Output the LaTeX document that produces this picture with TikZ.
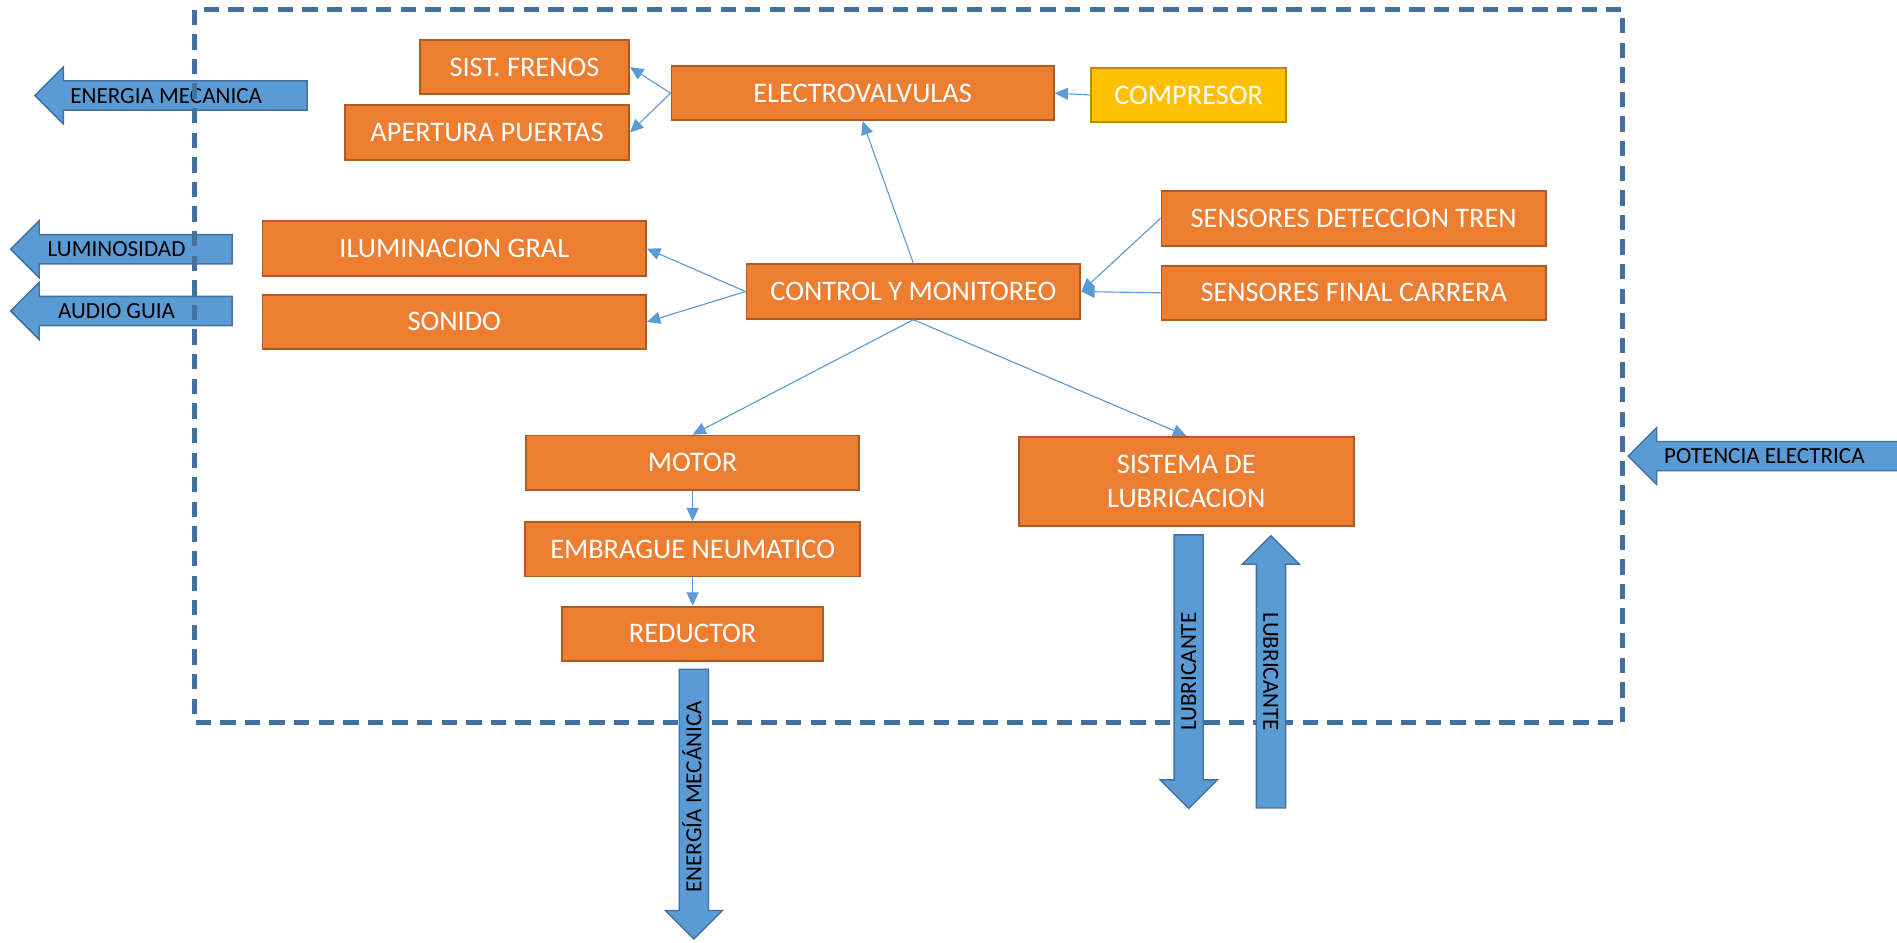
\documentclass[tikz,border=0pt]{standalone}
\usepackage{fontspec}
\setmainfont{Carlito}
\usepackage{tikz}
\usetikzlibrary{arrows.meta,positioning,shapes.arrows}

\definecolor{boxfill}{HTML}{ED7D31}
\definecolor{boxline}{HTML}{AE5A21}
\definecolor{compfill}{HTML}{FFC000}
\definecolor{compline}{HTML}{BC8C00}
\definecolor{flowfill}{HTML}{5B9BD5}
\definecolor{flowline}{HTML}{41719C}
\definecolor{linkblue}{HTML}{5B9BD5}
\definecolor{framebl}{HTML}{41719C}

\newcommand{\boxfont}{\fontsize{20}{23.5}\selectfont}
\newcommand{\flowfont}{\fontsize{16.3}{18}\selectfont}

\begin{document}
\begin{tikzpicture}[x=0.03cm,y=-0.03cm,
  block/.style={rectangle,draw=boxline,fill=boxfill,line width=1.3pt,text=white,
                font=\boxfont,inner sep=0pt,align=center,minimum height=1.35cm},
  source/.style={block,draw=compline,fill=compfill},
  link/.style={draw=linkblue,line width=0.8pt,-{Triangle[length=0.33cm,width=0.3cm]}},
  flow/.style={single arrow,draw=flowline,fill=flowfill,line width=1pt,font=\flowfont,
               single arrow head extend=0.345cm,inner xsep=0pt,inner ysep=0.16cm,
               text height=0.37cm,text depth=0pt,shape border rotate=180,anchor=tip},
  frame/.style={draw=framebl,line width=3.4pt,dash pattern=on 0.38cm off 0.23cm}]

\useasboundingbox (0,0) rectangle (1568,779);

\node[flow,minimum height=6.75cm] (emec) at (28,79) {ENERGIA MECANICA\hspace*{0.6cm}};
\node[flow,minimum height=5.49cm] (lum) at (8,206) {LUMINOSIDAD\hspace*{0.6cm}};
\node[flow,minimum height=5.49cm] (audio) at (8,257) {AUDIO GUIA\hspace*{0.6cm}};

\draw[frame] (161,8) rectangle (1341,597);

\node[block,minimum width=5.19cm] (frenos) at (433.5,55.5) {SIST. FRENOS};
\node[block,minimum width=7.05cm] (puertas) at (402.5,109.5) {APERTURA PUERTAS};
\node[block,minimum width=9.48cm] (evalv) at (713,77) {ELECTROVALVULAS};
\node[source,minimum width=4.83cm] (compr) at (982.5,78.5) {COMPRESOR};
\node[block,minimum width=8.28cm] (ctrl) at (755,241) {CONTROL Y MONITOREO};
\node[block,minimum width=9.54cm] (sdet) at (1119,180.5) {SENSORES DETECCION TREN};
\node[block,minimum width=9.54cm,below=0.45cm of sdet] (sfin) {SENSORES FINAL CARRERA};
\node[block,minimum width=9.51cm] (ilum) at (375.5,205.5) {ILUMINACION GRAL};
\node[block,minimum width=9.51cm,below=0.42cm of ilum] (sonido) {SONIDO};
\node[block,minimum width=8.25cm] (motor) at (572.5,382.5) {MOTOR};
\node[block,minimum width=8.31cm,below=0.75cm of motor] (embrague) {EMBRAGUE NEUMATICO};
\node[block,minimum width=6.48cm,below=0.7cm of embrague] (reductor) {REDUCTOR};
\node[block,minimum width=8.31cm,minimum height=2.22cm] (lubric) at (980.5,398)
  {SISTEMA DE\\LUBRICACION};

\node[flow,minimum height=6.75cm] (pot) at (1345,377) {POTENCIA ELECTRICA\hspace*{0.36cm}};
\node[flow,rotate=90,minimum height=6.69cm] (emecv) at (573.5,777) {ENERGÍA MECÁNICA};
\node[flow,rotate=90,minimum height=6.78cm] (lubout) at (982.5,669) {LUBRICANTE\hspace*{0.36cm}};
\node[flow,rotate=-90,minimum height=6.75cm] (lubin) at (1050.5,442) {LUBRICANTE\hspace*{0.36cm}};

\draw[link] (evalv.west) -- (frenos.east);
\draw[link] (evalv.west) -- (puertas.east);
\draw[link] (compr.west) -- (evalv.east);
\draw[link] (ctrl.north) -- (evalv.south);
\draw[link] (ctrl.west) -- (ilum.east);
\draw[link] (ctrl.west) -- (sonido.east);
\draw[link] (sdet.west) -- (ctrl.east);
\draw[link] (sfin.west) -- (ctrl.east);
\draw[link] (ctrl.south) -- (motor.north);
\draw[link] (ctrl.south) -- (lubric.north);
\draw[link] (motor.south) -- (embrague.north);
\draw[link] (embrague.south) -- (reductor.north);
\end{tikzpicture}
\end{document}
